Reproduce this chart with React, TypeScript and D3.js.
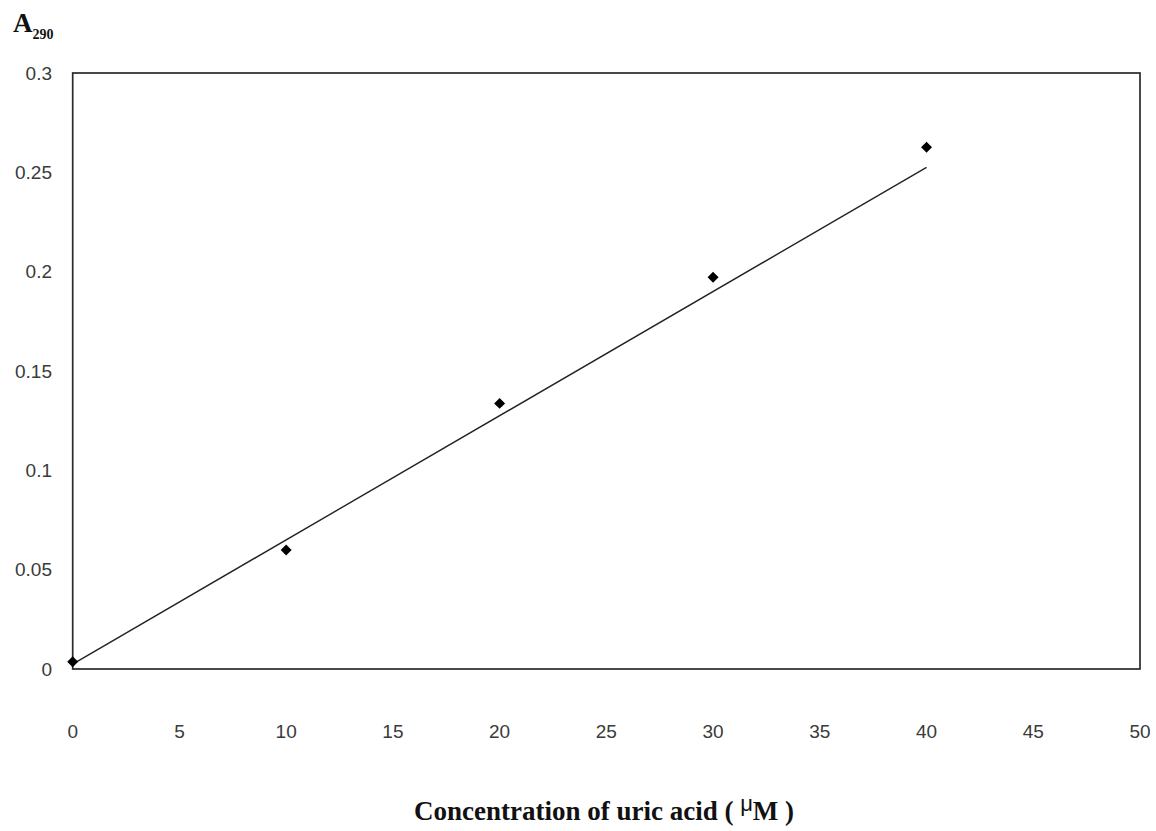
import React from "react";
import * as d3 from "d3";

const concentrations = [0, 10, 20, 30, 40];
const absorbance = [0.0037, 0.0599, 0.1337, 0.1972, 0.2626];
const trendX = [0, 40];
const trendY = [0.0025, 0.2525];
const yTicks = [0, 0.05, 0.1, 0.15, 0.2, 0.25, 0.3];
const yTickLabels = ["0", "0.05", "0.1", "0.15", "0.2", "0.25", "0.3"];
const xTicks = [0, 5, 10, 15, 20, 25, 30, 35, 40, 45, 50];

const W = 1156;
const H = 831;
const left = 72.7;
const right = 1140;
const top = 73;
const bottom = 669;

export default function App() {
  const x = d3.scaleLinear().domain([0, 50]).range([left, right]);
  const y = d3.scaleLinear().domain([0, 0.3]).range([bottom, top]);
  const line = d3
    .line<number>()
    .x((d, i) => x(trendX[i]))
    .y((d) => y(d));
  const sym = d3.symbol().type(d3.symbolSquare).size(60);
  const tickFont = "'Liberation Sans', Arial, sans-serif";
  const serif = "'Liberation Serif', 'Times New Roman', serif";
  return (
    <svg
      width={W}
      height={H}
      style={{ position: "absolute", left: 0, top: 0, background: "#fff" }}
    >
      <rect x={0} y={0} width={W} height={H} fill="#fff" />
      <rect
        x={left}
        y={top}
        width={right - left}
        height={bottom - top}
        fill="none"
        stroke="#2a2a2a"
        strokeWidth={1.7}
      />
      <path d={line(trendY) || ""} fill="none" stroke="#222" strokeWidth={1.4} />
      {concentrations.map((c, i) => (
        <path
          key={i}
          d={sym() || ""}
          transform={`translate(${x(c)},${y(absorbance[i])}) rotate(45)`}
          fill="#000"
        />
      ))}
      {yTicks.map((t, i) => (
        <text
          key={i}
          x={52}
          y={y(t)}
          textAnchor="end"
          dominantBaseline="central"
          fontFamily={tickFont}
          fontSize={19}
          fill="#3a3a3a"
        >
          {yTickLabels[i]}
        </text>
      ))}
      {xTicks.map((t, i) => (
        <text
          key={i}
          x={x(t)}
          y={738}
          textAnchor="middle"
          fontFamily={tickFont}
          fontSize={19}
          fill="#3a3a3a"
        >
          {t}
        </text>
      ))}
      <text x={13} y={32} fontFamily={serif} fontWeight="bold" fontSize={27} fill="#111">
        A
        <tspan fontSize={14} dy={7}>
          290
        </tspan>
      </text>
      <text
        x={604}
        y={820}
        textAnchor="middle"
        fontFamily={serif}
        fontWeight="bold"
        fontSize={27}
        fill="#111"
      >
        {"Concentration of uric acid ( "}
        <tspan fontWeight="normal" fontFamily={tickFont} fontSize={22} dy={-9}>
          μ
        </tspan>
        <tspan dy={9}>M )</tspan>
      </text>
    </svg>
  );
}
